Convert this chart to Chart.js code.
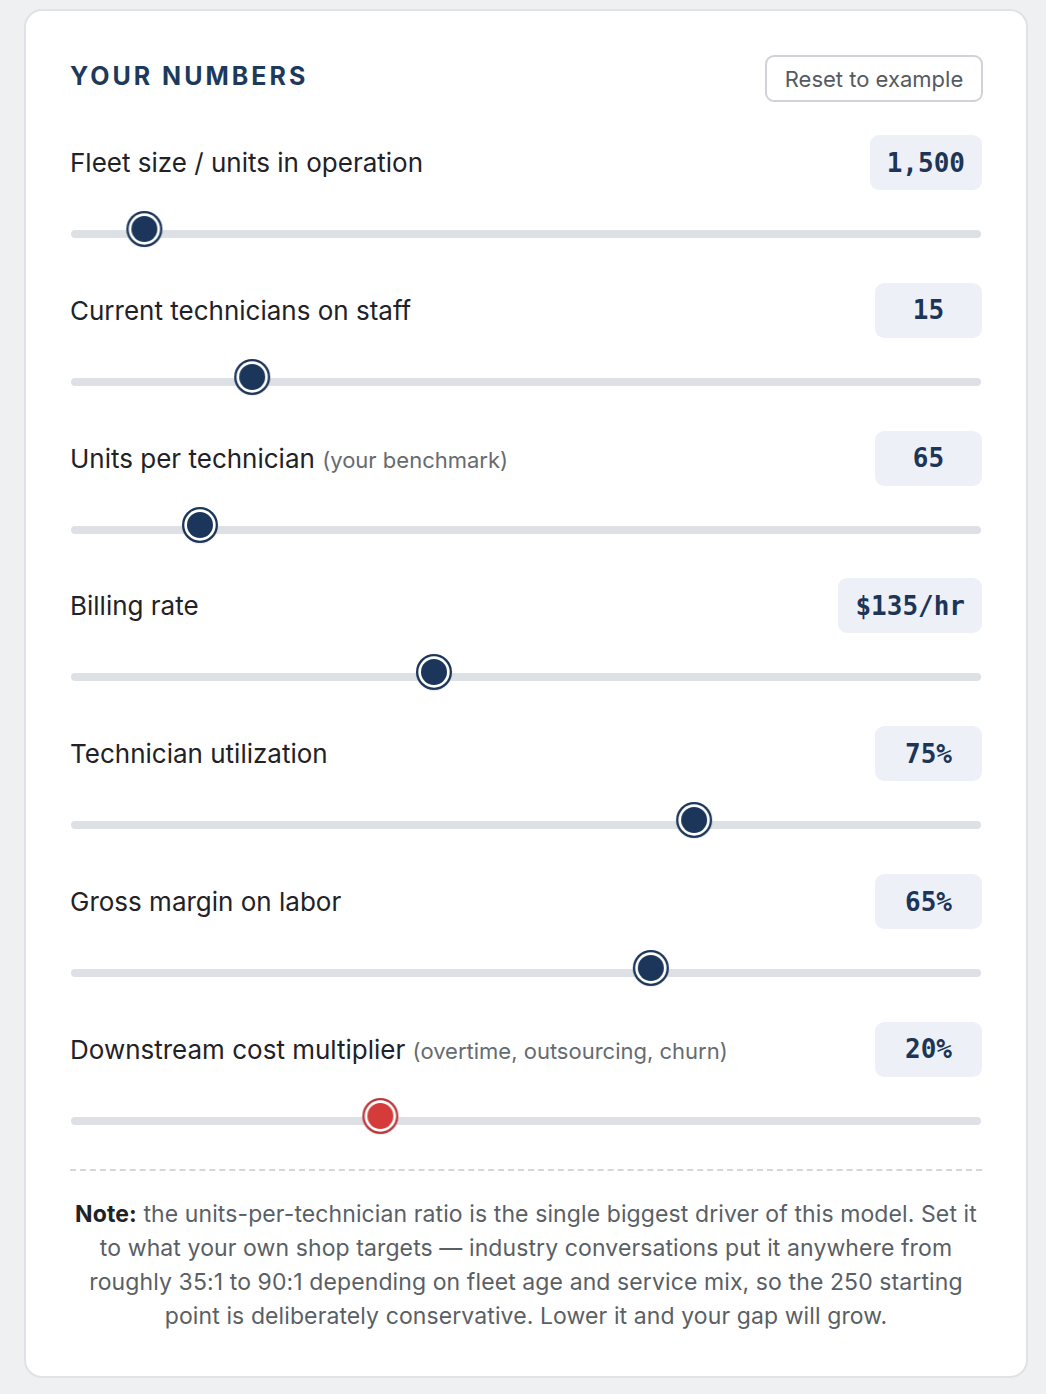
<!DOCTYPE html>
<html>
<head>
<meta charset="utf-8">
<script src="https://cdn.jsdelivr.net/npm/chart.js@4.4.1/dist/chart.umd.min.js"></script>
<style>
  html, body { margin:0; padding:0; }
  body { width:1046px; height:1394px; background:#eef0f2; position:relative; overflow:hidden;
         font-family: "Inter", "Liberation Sans", sans-serif; }
  .card { position:absolute; left:24px; top:9px; width:1000px; height:1365px; background:#fff;
          border:2px solid #dfe2e6; border-radius:18px; }
  .hdr { position:absolute; left:70px; top:61px; font-size:25px; font-weight:700; letter-spacing:3px; color:#1d3a5c; }
  .reset { position:absolute; left:765px; top:55px; width:214px; height:43px; border:2px solid #cfd2d6; border-radius:9px;
           font-size:22px; color:#555a60; display:flex; align-items:center; justify-content:center; box-sizing:content-box; }
  .lbl { position:absolute; left:70px; font-size:26px; color:#1f2226; white-space:nowrap; }
  .lbl small { font-size:22px; color:#666b70; }
  .val { position:absolute; right:64px; height:55px; min-width:73px; padding:0 17px; background:#edf1f7; border-radius:9px;
         font-family:"DejaVu Sans Mono", monospace; font-weight:700; font-size:26px; color:#1d3557;
         display:flex; align-items:center; justify-content:center; }
  .row canvas { position:absolute; left:70px; }
  .divider { position:absolute; left:70px; top:1169px; width:912px; height:0; border-top:2px dashed #d3d6da; }
  .note { position:absolute; left:20px; width:1012px; top:1197px; text-align:center; font-size:23px; letter-spacing:0.1px; line-height:34px; color:#5a5f65; }
  .note b { color:#1f2226; }
</style>
</head>
<body>
<div class="card"></div>
<div class="hdr">YOUR NUMBERS</div>
<div class="reset">Reset to example</div>
<div id="rows"></div>
<div class="divider"></div>
<div class="note"><b>Note:</b> the units-per-technician ratio is the single biggest driver of this model. Set it<br>to what your own shop targets — industry conversations put it anywhere from<br>roughly 35:1 to 90:1 depending on fleet age and service mix, so the 250 starting<br>point is deliberately conservative. Lower it and your gap will grow.</div>

<script>
// ---- data ----
const labels = [
  "Fleet size / units in operation",
  "Current technicians on staff",
  "Units per technician",
  "Billing rate",
  "Technician utilization",
  "Gross margin on labor",
  "Downstream cost multiplier"
];
const subLabels = ["", "", "(your benchmark)", "", "", "", "(overtime, outsourcing, churn)"];
const displayValues = ["1,500", "15", "65", "$135/hr", "75%", "65%", "20%"];
const sliderValues = [1500, 15, 65, 135, 75, 65, 20];
const sliderMin = [250, 1, 25, 60, 30, 20, 0];
const sliderMax = [20000, 76, 340, 250, 95, 90, 60];
const thumbColors = ["#1b365a", "#1b365a", "#1b365a", "#1b365a", "#1b365a", "#1b365a", "#d63b3b"];
const ringColors = ["#1b365a", "#1b365a", "#1b365a", "#1b365a", "#1b365a", "#1b365a", "#b9393b"];

// ---- layout / style ----
const ROW_TOP = 135, ROW_STEP = 147.83, THUMB_R = 18, TRACK_H = 8, THUMB_LIFT = 5;

function makeThumb(fill, ring) {
  const c = document.createElement('canvas');
  const w = THUMB_R * 2 + 2, h = w + THUMB_LIFT * 2;
  c.width = w; c.height = h;
  const g = c.getContext('2d');
  const cx = w / 2, cy = h / 2 - THUMB_LIFT;
  g.fillStyle = 'rgba(0,0,0,0.06)';
  g.beginPath(); g.arc(cx, cy + 1, THUMB_R + 0.5, 0, Math.PI * 2); g.fill();
  g.fillStyle = ring; g.beginPath(); g.arc(cx, cy, THUMB_R, 0, Math.PI * 2); g.fill();
  g.fillStyle = '#ffffff'; g.beginPath(); g.arc(cx, cy, THUMB_R - 2.3, 0, Math.PI * 2); g.fill();
  g.fillStyle = fill; g.beginPath(); g.arc(cx, cy, THUMB_R - 5, 0, Math.PI * 2); g.fill();
  return c;
}

const trackPlugin = {
  id: 'track',
  beforeDatasetsDraw(chart) {
    const { ctx, scales } = chart;
    const y = scales.y.getPixelForValue(0);
    const x0 = scales.x.getPixelForValue(scales.x.min) - THUMB_R;
    const x1 = scales.x.getPixelForValue(scales.x.max) + THUMB_R;
    ctx.save();
    ctx.fillStyle = '#dde1e5';
    ctx.beginPath();
    ctx.roundRect(x0, y - TRACK_H / 2, x1 - x0, TRACK_H, TRACK_H / 2);
    ctx.fill();
    ctx.restore();
  }
};

const rows = document.getElementById('rows');
labels.forEach((lab, i) => {
  const top = ROW_TOP + i * ROW_STEP;
  const row = document.createElement('div');
  row.className = 'row';
  const l = document.createElement('div');
  l.className = 'lbl';
  l.style.top = (top + 12) + 'px';
  l.innerHTML = lab + (subLabels[i] ? ' <small>' + subLabels[i] + '</small>' : '');
  const v = document.createElement('div');
  v.className = 'val';
  v.style.top = top + 'px';
  v.textContent = displayValues[i];
  const cv = document.createElement('canvas');
  cv.width = 912; cv.height = 60;
  cv.style.width = '912px'; cv.style.height = '60px';
  cv.style.top = (top + 99 - 30) + 'px';
  row.appendChild(l); row.appendChild(v); row.appendChild(cv);
  rows.appendChild(row);

  new Chart(cv, {
    type: 'scatter',
    data: {
      datasets: [{
        data: [{ x: sliderValues[i], y: 0 }],
        pointStyle: makeThumb(thumbColors[i], ringColors[i]),
        pointRadius: THUMB_R,
        clip: false
      }]
    },
    options: {
      responsive: false,
      animation: false,
      events: [],
      layout: { padding: { left: THUMB_R, right: THUMB_R, top: 0, bottom: 0 } },
      plugins: { legend: { display: false }, tooltip: { enabled: false } },
      scales: {
        x: { type: 'linear', min: sliderMin[i], max: sliderMax[i], display: false },
        y: { type: 'linear', min: -1, max: 1, display: false }
      }
    },
    plugins: [trackPlugin]
  });
});
</script>
</body>
</html>
